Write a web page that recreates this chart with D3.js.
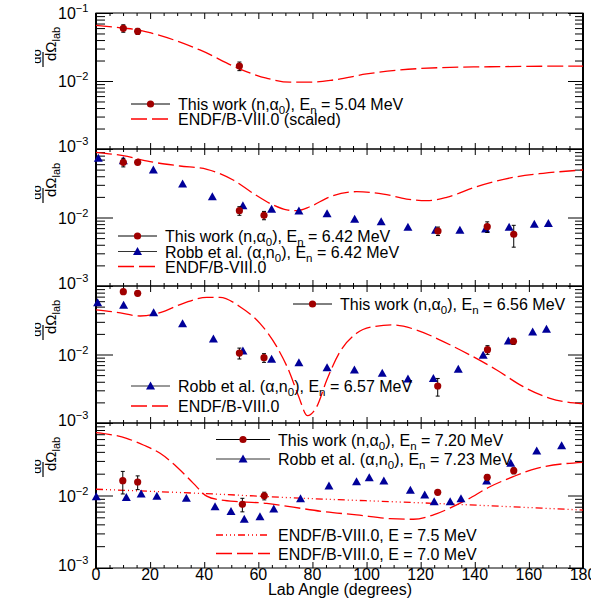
<!DOCTYPE html>
<html>
<head>
<meta charset="utf-8">
<script src="https://cdn.jsdelivr.net/npm/d3@7"></script>
<style>
  body { margin: 0; background: #fff; }
  text { font-family: "Liberation Sans", Arial, sans-serif; fill: #000; }
</style>
</head>
<body>
<script>
// ---- data (angle in degrees, dsigma/dOmega) ----
// panel 1: En = 5.04 MeV
var p1WorkAng = [10.1, 15.4, 53.0];
var p1WorkVal = [0.0596, 0.0538, 0.0166];
var p1WorkErr = [0.0075, 0.0055, 0.0024];
var p1EndfAng = [0, 10, 15, 20, 38.4, 53.2, 63, 71.7, 79, 87.7, 100, 112, 127, 145.6, 180];
var p1EndfVal = [0.0659, 0.060, 0.057, 0.0513, 0.0286, 0.015, 0.011, 0.0096, 0.0096, 0.01035, 0.0127, 0.0145, 0.0157, 0.0162, 0.0166];

// panel 2: En = 6.42 MeV
var p2RobbAng = [0.85, 10.1, 21.2, 32.0, 43.0, 54.3, 64.9, 75.0, 85.4, 95.6, 105.4, 115.3, 125.5, 134.5, 144.0, 152.7, 162.0, 167.2];
var p2RobbVal = [0.0731, 0.0675, 0.0494, 0.0308, 0.0201, 0.0149, 0.0132, 0.0124, 0.0113, 0.0094, 0.0087, 0.0072, 0.0065, 0.0065, 0.0068, 0.0072, 0.0080, 0.0082];
var p2WorkAng = [10.1, 15.4, 53.0, 62.1, 126.4, 144.6, 154.4];
var p2WorkVal = [0.064, 0.064, 0.01257, 0.01077, 0.00635, 0.00734, 0.00569];
var p2WorkErr = [0.0092, 0.004, 0.0018, 0.0015, 0.0009, 0.0013, 0.002];
var p2EndfAng = [0, 10, 20, 31, 41, 50.7, 58.1, 65.5, 70.5, 74.2, 79.1, 86.5, 96.3, 106.2, 114.8, 122.2, 129.6, 140.7, 155.5, 165.3, 180];
var p2EndfVal = [0.0895, 0.0798, 0.0653, 0.0565, 0.0505, 0.0353, 0.0225, 0.0152, 0.0129, 0.0126, 0.0144, 0.0201, 0.0238, 0.0220, 0.0186, 0.0176, 0.0197, 0.0282, 0.0394, 0.0442, 0.0494];

// panel 3: En = 6.56 MeV
var p3RobbAng = [0.6, 10.2, 21.3, 32.0, 43.4, 54.3, 64.9, 75.0, 85.4, 95.5, 105.8, 115.3, 124.7, 133.9, 143.1, 152.4, 161.4, 166.5];
var p3RobbVal = [0.0571, 0.0523, 0.0408, 0.0282, 0.0168, 0.01125, 0.0085, 0.0076, 0.00642, 0.00594, 0.00531, 0.00439, 0.00445, 0.00608, 0.00973, 0.01574, 0.0213, 0.0233];
var p3WorkAng = [10.1, 15.4, 53.0, 62.1, 126.3, 144.7, 154.3];
var p3WorkVal = [0.0826, 0.0782, 0.0105, 0.00898, 0.00347, 0.01175, 0.0156];
var p3WorkErr = [0.002, 0.002, 0.0019, 0.0013, 0.001, 0.0017, 0.0016];
var p3EndfAng = [0, 7.6, 16.3, 23.7, 32.3, 41, 45.8, 53.2, 60.6, 66.8, 71.7, 74.8, 78.2, 81.6, 85.3, 90.2, 96.3, 102.5, 109.9, 118.5, 128.4, 138.2, 148.1, 157.9, 167.8, 180];
var p3EndfVal = [0.0447, 0.0413, 0.0365, 0.0408, 0.0559, 0.0684, 0.0684, 0.0499, 0.0285, 0.013, 0.0053, 0.0025, 0.00128, 0.00173, 0.00425, 0.011, 0.0204, 0.0255, 0.027, 0.0228, 0.0154, 0.00984, 0.00594, 0.00339, 0.00229, 0.0019];

// panel 4: En = 7.20 MeV
var p4RobbAng = [0.1, 11.2, 16.7, 22.5, 33.4, 44.0, 49.9, 54.8, 60.6, 65.7, 75.6, 86.1, 96.3, 101.0, 106.4, 116.2, 121.5, 125.0, 130.9, 134.9, 144.4, 153.3, 162.9, 172.1];
var p4RobbVal = [0.0096, 0.0094, 0.0105, 0.0098, 0.0092, 0.0070, 0.0060, 0.0047, 0.0051, 0.0065, 0.0090, 0.0135, 0.0155, 0.0176, 0.0159, 0.0118, 0.0102, 0.0082, 0.0082, 0.0090, 0.0159, 0.0278, 0.0411, 0.0487];
var p4WorkAng = [9.9, 15.4, 54.1, 62.2, 126.3, 144.6, 154.4];
var p4WorkVal = [0.016, 0.01535, 0.00755, 0.0099, 0.01107, 0.0178, 0.022];
var p4WorkErr = [0.0055, 0.0033, 0.0016, 0.0012, 0.0004, 0.0017, 0.0021];
var p4Endf70Ang = [0, 11.3, 17.5, 23.7, 29.8, 36, 40.9, 45.8, 53.2, 63.1, 72.9, 84, 96.3, 108.6, 117.3, 124.7, 130.8, 137, 145.6, 154.2, 162.9, 180];
var p4Endf70Val = [0.0735, 0.0615, 0.0497, 0.0382, 0.025, 0.0147, 0.0098, 0.0087, 0.0082, 0.0078, 0.0069, 0.0060, 0.0054, 0.0048, 0.0047, 0.0054, 0.0067, 0.0087, 0.0132, 0.0182, 0.0237, 0.0287];
var p4Endf75Ang = [0, 38.4, 75.4, 124.7, 180];
var p4Endf75Val = [0.0122, 0.0107, 0.0092, 0.0078, 0.0063];

var xMajor = [0, 20, 40, 60, 80, 100, 120, 140, 160, 180];
var yDecades = [1e-3, 1e-2, 1e-1];

var workColor = "#a00000", robbColor = "#000099", endfColor = "#ff0000";

var W = 591, H = 599;
var svg = d3.select("body").append("svg")
    .attr("width", W)
    .attr("height", H);

svg.append("clipPath").attr("id", "leftclip")
  .append("rect").attr("x", 35).attr("y", 0).attr("width", W).attr("height", H);

var x = d3.scaleLinear().domain([0, 180]).range([96, 583]);

var panels = [
  {top: 13, bottom: 149},
  {top: 149, bottom: 286},
  {top: 286, bottom: 423},
  {top: 423, bottom: 568}
];
panels.forEach(function(p) {
  p.y = d3.scaleLog().domain([1e-3, 1e-1]).range([p.bottom, p.top]);
});

function zip(a, v, e) {
  return a.map(function(d, i) { return {a: d, v: v[i], e: e ? e[i] : 0}; });
}

var minorX = d3.range(0, 181, 5).filter(function(d) { return d % 20 != 0; });
var minorY = [];
[1e-3, 1e-2].forEach(function(d) { for (var k = 2; k <= 9; k++) minorY.push(k * d); });

// frames and ticks
panels.forEach(function(p, i) {
  var g = svg.append("g");
  var noLabel = function() { return ""; };

  g.append("g").attr("transform", "translate(0," + p.bottom + ")")
    .call(d3.axisBottom(x).tickValues(xMajor).tickSize(-6).tickFormat(noLabel));
  g.append("g").attr("transform", "translate(0," + p.bottom + ")")
    .call(d3.axisBottom(x).tickValues(minorX).tickSize(-3).tickFormat(noLabel));
  g.append("g").attr("transform", "translate(0," + p.top + ")")
    .call(d3.axisTop(x).tickValues(xMajor).tickSize(-6).tickFormat(noLabel));
  g.append("g").attr("transform", "translate(0," + p.top + ")")
    .call(d3.axisTop(x).tickValues(minorX).tickSize(-3).tickFormat(noLabel));

  g.append("g").attr("transform", "translate(96,0)")
    .call(d3.axisLeft(p.y).tickValues(yDecades).tickSize(-17).tickFormat(noLabel));
  g.append("g").attr("transform", "translate(96,0)")
    .call(d3.axisLeft(p.y).tickValues(minorY).tickSize(-9).tickFormat(noLabel));
  g.append("g").attr("transform", "translate(583,0)")
    .call(d3.axisRight(p.y).tickValues(yDecades).tickSize(-15).tickFormat(noLabel));
  g.append("g").attr("transform", "translate(583,0)")
    .call(d3.axisRight(p.y).tickValues(minorY).tickSize(-8).tickFormat(noLabel));

  g.selectAll(".domain").remove();
  g.selectAll(".tick text").remove();
  g.selectAll(".tick line").attr("stroke", "#000").attr("stroke-width", 1);

  g.append("rect")
    .attr("x", 96).attr("y", p.top)
    .attr("width", 583 - 96).attr("height", p.bottom - p.top)
    .attr("fill", "none").attr("stroke", "#000").attr("stroke-width", 1);
  g.append("line").attr("x1", 96).attr("x2", 96).attr("y1", p.top).attr("y2", p.bottom)
    .attr("stroke", "#000").attr("stroke-width", 2);
  g.append("line").attr("x1", 583).attr("x2", 583).attr("y1", p.top).attr("y2", p.bottom)
    .attr("stroke", "#000").attr("stroke-width", 2);

  // y tick labels
  var labs = i == 0 ? yDecades : [1e-3, 1e-2];
  labs.forEach(function(v) {
    var t = g.append("text")
      .attr("x", 58)
      .attr("y", p.y(v) + 6 - (v == 1e-3 ? 3 : 0))
      .style("font-size", "16px");
    t.append("tspan").text("10");
    t.append("tspan").attr("dy", -7).style("font-size", "11px")
      .text("\u2212" + Math.round(-Math.log10(v)));
  });

  // y axis title dsigma / dOmega_lab, clipped at the left like the original
  var cg = svg.append("g").attr("clip-path", "url(#leftclip)");
  var lg = cg.append("g").attr("transform", "translate(43," + (p.top + 46) + ") rotate(-90)");
  lg.append("line").attr("x1", -8).attr("x2", 7).attr("y1", 0).attr("y2", 0)
    .attr("stroke", "#000").attr("stroke-width", 1.2);
  lg.append("text").attr("x", 3).attr("y", -2).attr("text-anchor", "middle")
    .style("font-size", "13px").text("d\u03c3");
  var den = lg.append("text").attr("x", -2).attr("y", 13).style("font-size", "15px");
  den.append("tspan").text("d\u03a9");
  den.append("tspan").attr("dy", 4).style("font-size", "11px").text("lab");
});

// x tick labels and title
xMajor.forEach(function(d) {
  svg.append("text").attr("x", x(d)).attr("y", 580)
    .attr("text-anchor", "middle").style("font-size", "16px").text(d);
});
svg.append("text").attr("x", 412).attr("y", 595)
  .attr("text-anchor", "end").style("font-size", "16px").text("Lab Angle (degrees)");

// plotting helpers
function drawCurve(p, data, dash) {
  var line = d3.line()
    .x(function(d) { return x(d.a); })
    .y(function(d) { return p.y(d.v); })
    .curve(d3.curveMonotoneX);
  svg.append("path").datum(data)
    .attr("d", line)
    .attr("fill", "none")
    .attr("stroke", endfColor)
    .attr("stroke-width", 1.3)
    .attr("stroke-dasharray", dash);
}

function triPath(cx, cy) {
  return "M" + (cx - 4.5) + "," + (cy + 3.5) + "L" + (cx + 4.5) + "," + (cy + 3.5) + "L" + cx + "," + (cy - 4.5) + "Z";
}

function drawRobb(p, data) {
  svg.append("g").selectAll("path").data(data).enter().append("path")
    .attr("d", function(d) { return triPath(x(d.a), p.y(d.v)); })
    .attr("fill", robbColor);
}

function drawWork(p, data) {
  var g = svg.append("g");
  var eb = g.selectAll("g.eb").data(data).enter().append("g");
  eb.append("line")
    .attr("x1", function(d) { return x(d.a); })
    .attr("x2", function(d) { return x(d.a); })
    .attr("y1", function(d) { return p.y(d.v + d.e); })
    .attr("y2", function(d) { return p.y(d.v - d.e); })
    .attr("stroke", "#000").attr("stroke-width", 1);
  [function(d) { return p.y(d.v + d.e); }, function(d) { return p.y(d.v - d.e); }].forEach(function(fy) {
    eb.append("line")
      .attr("x1", function(d) { return x(d.a) - 2; })
      .attr("x2", function(d) { return x(d.a) + 2; })
      .attr("y1", fy).attr("y2", fy)
      .attr("stroke", "#000").attr("stroke-width", 1);
  });
  g.selectAll("circle").data(data).enter().append("circle")
    .attr("cx", function(d) { return x(d.a); })
    .attr("cy", function(d) { return p.y(d.v); })
    .attr("r", 3.6)
    .attr("fill", workColor);
}

var longDash = "16,5";
var dashDot = "7,3,1,3,1,3,1,3";

// panel 1
drawCurve(panels[0], zip(p1EndfAng, p1EndfVal), longDash);
drawWork(panels[0], zip(p1WorkAng, p1WorkVal, p1WorkErr));
// panel 2
drawCurve(panels[1], zip(p2EndfAng, p2EndfVal), longDash);
drawRobb(panels[1], zip(p2RobbAng, p2RobbVal));
drawWork(panels[1], zip(p2WorkAng, p2WorkVal, p2WorkErr));
// panel 3
drawCurve(panels[2], zip(p3EndfAng, p3EndfVal), longDash);
drawRobb(panels[2], zip(p3RobbAng, p3RobbVal));
drawWork(panels[2], zip(p3WorkAng, p3WorkVal, p3WorkErr));
// panel 4
drawCurve(panels[3], zip(p4Endf75Ang, p4Endf75Val), dashDot);
drawCurve(panels[3], zip(p4Endf70Ang, p4Endf70Val), longDash);
drawRobb(panels[3], zip(p4RobbAng, p4RobbVal));
drawWork(panels[3], zip(p4WorkAng, p4WorkVal, p4WorkErr));

// legends
function legendEntry(kind, x0, x1, y, parts) {
  var g = svg.append("g");
  var mid = (x0 + x1) / 2;
  if (kind == "work" || kind == "robb") {
    g.append("line").attr("x1", x0).attr("x2", x1).attr("y1", y).attr("y2", y)
      .attr("stroke", kind == "work" ? "#000" : "#333").attr("stroke-width", 1);
    if (kind == "work") g.append("circle").attr("cx", mid).attr("cy", y).attr("r", 3.6).attr("fill", workColor);
    else g.append("path").attr("d", triPath(mid, y)).attr("fill", robbColor);
  } else {
    g.append("line").attr("x1", x0).attr("x2", x1).attr("y1", y).attr("y2", y)
      .attr("stroke", endfColor).attr("stroke-width", 1.3)
      .attr("stroke-dasharray", kind == "endf" ? longDash : dashDot);
  }
  var t = g.append("text").attr("x", x1 + 8).attr("y", y + 6).style("font-size", "16px");
  var shift = 0;
  parts.forEach(function(s) {
    if (typeof s == "string") {
      t.append("tspan").attr("dy", -shift).text(s);
      shift = 0;
    } else {
      t.append("tspan").attr("dy", 4 - shift).style("font-size", "11.5px").text(s[0]);
      shift = 4;
    }
  });
}

function workLabel(e) { return ["This work (n,\u03b1", ["0"], "), E", ["n"], " = " + e + " MeV"]; }
function robbLabel(e) { return ["Robb et al. (\u03b1,n", ["0"], "), E", ["n"], " = " + e + " MeV"]; }

legendEntry("work", 131, 170, 104, workLabel("5.04"));
legendEntry("endf", 131, 170, 119, ["ENDF/B-VIII.0 (scaled)"]);

legendEntry("work", 118, 157, 236, workLabel("6.42"));
legendEntry("robb", 118, 157, 251.5, robbLabel("6.42"));
legendEntry("endf", 118, 157, 266.5, ["ENDF/B-VIII.0"]);

legendEntry("work", 293, 332, 304, workLabel("6.56"));
legendEntry("robb", 131, 170, 386, robbLabel("6.57"));
legendEntry("endf", 131, 170, 406, ["ENDF/B-VIII.0"]);

legendEntry("work", 216, 270, 439.5, workLabel("7.20"));
legendEntry("robb", 216, 270, 459, robbLabel("7.23"));
legendEntry("endf75", 216, 270, 535, ["ENDF/B-VIII.0, E = 7.5 MeV"]);
legendEntry("endf", 216, 270, 553.5, ["ENDF/B-VIII.0, E = 7.0 MeV"]);
</script>
</body>
</html>
